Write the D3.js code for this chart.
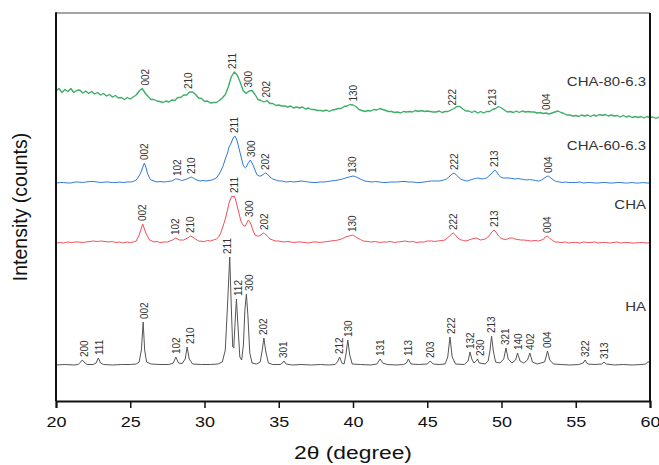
<!DOCTYPE html>
<html>
<head>
<meta charset="utf-8">
<script src="https://cdn.jsdelivr.net/npm/d3@7"></script>
<style>
  body { margin: 0; background: #fff; }
  text { font-family: Arial, "Liberation Sans", sans-serif; }
</style>
</head>
<body>
<svg width="659" height="465"></svg>
<script>
// XRD patterns, [2theta, counts above the pattern's own baseline]
var haCounts = [[20.0,0],[20.6,0.5],[21.2,0],[21.5,0.5],[21.6,2],[21.77,5],[21.95,2],[22.1,0.5],[22.5,0.5],[22.7,2],[22.85,7],[23.0,2],[23.2,0.5],[23.8,0],[24.4,0.5],[25.0,0.5],[25.4,1],[25.6,3],[25.75,15],[25.87,43],[25.97,15],[26.1,3],[26.4,1],[27.0,0.5],[27.6,0.5],[27.9,2],[28.07,8],[28.25,2],[28.5,1.5],[28.7,6],[28.83,18],[28.97,6],[29.2,1],[29.8,0.5],[30.4,0.5],[30.9,1],[31.2,3],[31.4,15],[31.55,60],[31.7,108],[31.8,60],[31.9,18],[31.97,17],[32.05,40],[32.15,66],[32.25,40],[32.38,8],[32.5,5],[32.62,20],[32.72,55],[32.82,71],[32.92,50],[33.05,12],[33.2,2],[33.5,1],[33.75,3],[33.88,14],[34.0,27],[34.12,14],[34.3,2],[34.6,0.5],[35.1,0.5],[35.25,2],[35.35,4],[35.5,1],[35.9,0],[36.5,0.5],[37.2,0],[37.8,0.5],[38.4,0],[38.8,0.5],[38.95,3],[39.1,8],[39.25,2],[39.4,1],[39.52,10],[39.65,25],[39.78,10],[39.95,1],[40.5,0.5],[41.2,0],[41.6,1],[41.83,6],[42.0,2],[42.3,0.5],[42.9,0],[43.4,0.5],[43.6,2],[43.73,6],[43.9,1],[44.4,0.5],[45.0,1],[45.2,4],[45.4,1],[45.8,0.5],[46.2,1],[46.38,8],[46.53,28],[46.68,8],[46.9,1],[47.5,0.5],[47.75,4],[47.88,13],[48.0,6],[48.15,2],[48.3,4],[48.39,6],[48.5,2],[48.9,1],[49.1,4],[49.22,14],[49.33,29],[49.45,14],[49.6,3],[49.9,2],[50.15,6],[50.3,17],[50.45,6],[50.7,2],[50.95,5],[51.08,12],[51.25,4],[51.5,2],[51.75,5],[51.91,12],[52.08,3],[52.4,1],[52.9,3],[53.0,8],[53.1,14],[53.25,5],[53.5,1],[54.0,0.5],[54.6,0],[55.2,0.5],[55.5,2],[55.63,5],[55.8,1],[56.3,0.5],[56.75,1],[56.9,3],[57.05,1],[57.6,0],[58.2,0.5],[58.8,0],[59.4,0.5],[59.7,1],[59.85,3],[60.0,3]];

var chaCounts = [[20,0],[20.3,0.5],[20.5,0],[20.8,1],[21,0.5],[21.3,1],[21.5,1],[21.8,0.5],[22,1],[22.3,1.5],[22.5,2],[22.8,1.5],[23,2],[23.3,1.5],[23.5,1],[23.8,1.5],[24,0.5],[24.3,1],[24.5,0],[24.8,1],[25.0,0.5],[25.2,1],[25.4,2],[25.6,8],[25.84,19],[26.05,10],[26.3,3],[26.6,1],[26.8,1.5],[27,0.5],[27.3,1],[27.5,1],[27.85,3],[28.07,5],[28.3,3],[28.6,3],[28.85,5],[29.07,7],[29.3,5],[29.6,2],[30.0,1.5],[30.2,2.5],[30.4,2],[30.6,3],[30.8,4],[30.95,6],[31.1,10],[31.25,17],[31.4,24],[31.55,33],[31.65,40],[31.78,45],[31.85,47],[31.93,46],[32.0,47],[32.08,44],[32.15,40],[32.25,34],[32.35,28],[32.45,22],[32.55,19],[32.65,17],[32.75,17],[32.85,20],[32.95,23],[33.05,21],[33.15,18],[33.25,13],[33.4,8],[33.55,7],[33.65,7],[33.8,8],[33.95,10],[34.05,9.5],[34.15,8],[34.3,6],[34.4,4],[34.6,3],[34.8,2],[35.0,2],[35.3,1],[35.6,1.5],[36,0.5],[36.3,1],[36.5,1],[36.8,0.5],[37,0],[37.3,1],[37.5,1],[37.8,0.5],[38,1],[38.3,1.5],[38.5,2],[38.8,2.5],[39.0,3],[39.3,4.5],[39.5,6],[39.75,7],[39.95,8],[40.1,7],[40.3,5],[40.5,3.5],[40.7,2],[41.0,1.5],[41.2,1],[41.5,1.5],[41.8,0.5],[42.0,1],[42.3,1],[42.5,1.5],[42.8,0.5],[43.0,1],[43.3,1.5],[43.5,2],[43.8,1],[44.0,1.5],[44.3,0.5],[44.5,1],[44.8,1],[45.0,2],[45.3,2],[45.5,1.5],[45.7,2],[46.0,2.5],[46.2,3],[46.35,5],[46.5,7],[46.65,9],[46.76,10],[46.9,8],[47.0,6],[47.15,4],[47.3,3],[47.45,2.5],[47.6,2],[47.8,3],[48.0,4],[48.15,4.5],[48.3,5],[48.45,4],[48.6,3],[48.75,3.5],[48.9,4],[49.05,5.5],[49.2,8],[49.35,11],[49.5,13],[49.62,11],[49.8,7],[49.95,5],[50.1,4],[50.25,3.5],[50.4,4],[50.55,5],[50.75,5],[50.9,4],[51.1,3.5],[51.3,3],[51.5,3],[51.75,2.5],[52.0,2],[52.25,2.5],[52.5,2],[52.7,3],[52.85,4],[52.95,6],[53.08,7],[53.2,5.5],[53.3,4],[53.45,2.5],[53.6,1],[53.8,1],[54,0.5],[54.3,1],[54.5,0],[54.8,0.5],[55,0.5],[55.3,0],[55.5,1],[55.8,0.5],[56,0.5],[56.3,1],[56.5,0],[56.8,0.5],[57,0.5],[57.3,0],[57.5,0.5],[57.8,1],[58,0],[58.3,0.5],[58.5,0.5],[58.8,0],[59,0],[59.3,0.5],[59.5,0.5],[59.8,0],[60,0.5]];

var cha60Counts = [[20,0],[20.3,0.5],[20.5,0.5],[20.8,0],[21,0],[21.3,1],[21.5,1],[21.8,0.5],[22,1],[22.3,1.5],[22.5,1.5],[22.8,1],[23,0.5],[23.3,1],[23.5,1],[23.8,0.5],[24,0.5],[24.3,1],[24.5,0.5],[24.8,1],[25,1],[25.2,1.5],[25.4,3],[25.55,6],[25.7,10],[25.85,16],[25.95,20],[26.05,16],[26.15,10],[26.3,5],[26.4,3],[26.6,2],[26.8,1],[27.0,1.5],[27.3,1],[27.5,1.5],[27.8,2],[28.05,4],[28.2,4],[28.45,2.5],[28.6,3],[28.8,4],[28.95,5],[29.1,6],[29.25,5],[29.35,4],[29.5,3],[29.7,2],[29.9,2.5],[30.1,2],[30.3,2.5],[30.5,3],[30.65,4],[30.8,5],[30.95,8],[31.1,12],[31.25,17],[31.4,24],[31.55,30],[31.65,36],[31.8,40],[31.9,44],[31.98,46],[32.05,47],[32.12,45],[32.2,42],[32.3,36],[32.4,30],[32.5,24],[32.6,18],[32.68,16],[32.75,15],[32.82,16],[32.9,19],[33.0,21],[33.09,23],[33.2,20],[33.3,17],[33.42,12],[33.55,8],[33.68,7],[33.8,7],[33.95,8.5],[34.05,9.5],[34.12,10],[34.22,9],[34.35,7],[34.5,5],[34.6,4],[34.8,3],[35,2],[35.2,2],[35.5,1],[35.8,1.5],[36,1],[36.3,1.5],[36.5,2],[36.8,1.5],[37,1],[37.3,0.5],[37.5,0.5],[37.8,1],[38,1],[38.3,1.5],[38.5,2],[38.8,2.5],[39,3],[39.3,4],[39.5,5],[39.75,6],[40.0,7],[40.15,6.5],[40.35,5],[40.55,3.5],[40.8,2],[41.0,1.5],[41.3,1],[41.5,1.5],[41.8,1],[42.0,0.5],[42.3,0.5],[42.5,1],[42.8,1],[43.0,1],[43.3,1.5],[43.5,1.5],[43.8,1],[44.0,1],[44.3,0.5],[44.5,0.5],[44.8,1],[45.0,1.5],[45.3,2],[45.5,2],[45.8,2],[46.0,2.5],[46.3,4],[46.45,6],[46.6,8],[46.72,9.5],[46.83,10],[46.95,8],[47.1,6],[47.25,4],[47.4,3],[47.55,2.5],[47.7,2],[47.9,3],[48.1,4],[48.25,4.5],[48.4,5],[48.55,4.5],[48.7,4],[48.85,4.5],[49.0,5],[49.15,7],[49.3,9],[49.42,11],[49.55,13],[49.68,11],[49.8,8],[49.95,6],[50.1,5],[50.3,5],[50.5,5],[50.7,4.5],[50.9,4],[51.1,4.5],[51.3,4],[51.5,3.5],[51.7,3],[51.9,3.5],[52.1,3],[52.3,2.5],[52.5,2],[52.7,3],[52.9,5],[53.05,6.5],[53.15,7],[53.28,5.5],[53.4,4],[53.55,2.5],[53.7,1.5],[53.9,1],[54.1,0.5],[54.3,1],[54.5,0.5],[54.8,0.5],[55,0.5],[55.3,1],[55.5,0],[55.8,0.5],[56,0.5],[56.3,0],[56.5,0],[56.8,0.5],[57,0.5],[57.3,0],[57.5,0],[57.8,0.5],[58,0.5],[58.3,0],[58.5,0],[58.8,0.5],[59,0],[59.3,0],[59.5,0.5],[59.8,0],[60,0]];

// CHA-80-6.3 is read every 0.2 degree from 20 degree (noisy scan)
var cha80Start = 20, cha80Step = 0.2;
var cha80Values = [29,31.5,27.5,30.5,28.5,31.5,27.5,29.5,30,27,29,26.5,28.5,26,27.5,25,26.5,24,25.5,23,24.5,22,22.5,20.5,22.5,21,23,25,29,31.5,27,23.5,20.5,20.5,19,18.5,17.5,19,18,20,19.5,22.5,22.5,25,25,28,28,25.5,22,21.5,18.5,19,17,17.5,17.5,19.5,22,25.5,33,43,48,45,38,29.5,26.5,29,29.5,25.5,20.5,19.5,18,19.5,16.5,16.5,14.5,15,14,14,13,14,12,13,12,13,11,12,10.5,10.5,9.5,9.5,9,10,8.5,10,10.5,11.5,11.5,13.5,14,15.5,15,13.5,10.5,9.5,8.5,9.5,9,10.5,10,11.5,10.5,9.5,8.5,8.5,7.5,8,7,8.5,8,8.5,8,9.5,8.5,9.5,8.5,9,8.5,8,8,9,7.5,8.5,8.5,10,11.5,13.5,13.5,11,9,9,7.5,9,7,8.5,7,8.5,8.5,10.5,11.5,13.5,12,10,8,8.5,7.5,9,7.5,9,8,8.5,8,8,7,7.5,6.5,7,6,7,8,9,7.5,6.5,5,5,4,4.5,3.5,5,4,5,3.5,5,4,5.5,4.5,5.5,4,5,4,4.5,3,4.5,3,4,2.5,3.5,2.5,3.5,2,3.5,2.5,3,1.5,3,1.5,2.5,1.5];

// Miller indices and the 2theta where each label stands
var haPeaks = [["200",21.9],["111",22.9],["002",25.95],["102",28.12],["210",29.05],["211",31.54],["112",32.3],["300",33.02],["202",33.98],["301",35.3],["212",39.11],["130",39.72],["131",41.86],["113",43.73],["203",45.25],["222",46.6],["132",47.94],["230",48.56],["213",49.33],["321",50.3],["140",51.15],["402",51.96],["004",53.1],["322",55.68],["313",56.95]];
var chaPeaks = [["002",25.84],["102",28.06],["210",29.08],["211",32.0],["300",33.0],["202",34.02],["130",39.95],["222",46.77],["213",49.5],["004",53.1]];
var cha60Peaks = [["002",25.95],["102",28.18],["210",29.15],["211",32.05],["300",33.19],["202",34.14],["130",39.97],["222",46.83],["213",49.55],["004",53.16]];
var cha80Peaks = [["002",26.04],["210",28.9],["211",31.91],["300",32.97],["202",34.18],["130",40.02],["222",46.67],["213",49.37],["004",53.0]];

var seriesNames = ["HA", "CHA", "CHA-60-6.3", "CHA-80-6.3"];
var seriesOffsets = [36, 158, 218, 281];
var xTicks = [20, 25, 30, 35, 40, 45, 50, 55, 60];

var svg = d3.select("svg"),
    plotL = 56, plotR = 650, plotT = 13, plotB = 401;

var x = d3.scaleLinear().domain([20, 60]).range([plotL, plotR]);
var y = d3.scaleLinear().domain([0, 388]).range([plotB, plotT]);

var cha80Counts = cha80Values.map(function(v, i){ return [cha80Start + i*cha80Step, v] });

var series = [
  {name: seriesNames[0], data: haCounts,    peaks: haPeaks,    off: seriesOffsets[0], color: "#555555", lift: 58, w: 1},
  {name: seriesNames[1], data: chaCounts,   peaks: chaPeaks,   off: seriesOffsets[1], color: "#f0505a", lift: 38, w: 1},
  {name: seriesNames[2], data: cha60Counts, peaks: cha60Peaks, off: seriesOffsets[2], color: "#2f7ad8", lift: 37, w: 1},
  {name: seriesNames[3], data: cha80Counts, peaks: cha80Peaks, off: seriesOffsets[3], color: "#3eae68", lift: 38, w: 1.4}
];

series.forEach(function(s){
  var line = d3.line()
      .x(function(d){ return x(d[0]) })
      .y(function(d){ return y(s.off + d[1]) });

  svg.append("path")
      .datum(s.data)
      .attr("fill", "none")
      .attr("stroke", s.color)
      .attr("stroke-width", s.w)
      .attr("stroke-linejoin", "round")
      .attr("d", line);

  // hkl labels sit just above the highest point near each label
  svg.selectAll(null)
    .data(s.peaks)
    .enter().append("text")
      .attr("transform", function(p){
        var near = s.data.filter(function(d){ return Math.abs(d[0] - p[1]) <= 0.25 });
        var peakTop = d3.max(near, function(d){ return d[1] });
        return "translate(" + x(p[1]) + "," + (y(s.off + peakTop) - 3) + ") rotate(-90)";
      })
      .attr("dy", "0.35em")
      .style("font-size", "10px")
      .style("fill", "#333")
      .text(function(p){ return p[0] });

  svg.append("text")
      .attr("transform", "translate(646," + (y(s.off) - s.lift) + ") scale(1.2,1)")
      .attr("text-anchor", "end")
      .attr("dy", "0.35em")
      .style("font-size", "12.5px")
      .style("fill", "#333")
      .text(s.name);
});

// frame
svg.append("line").attr("x1", plotL).attr("x2", plotR).attr("y1", plotT).attr("y2", plotT)
    .attr("stroke", "#888").attr("stroke-width", 1.5);
svg.append("line").attr("x1", plotR).attr("x2", plotR).attr("y1", plotT).attr("y2", plotB)
    .attr("stroke", "#111").attr("stroke-width", 2);
svg.append("line").attr("x1", plotL).attr("x2", plotL).attr("y1", plotT - 0.75).attr("y2", plotB)
    .attr("stroke", "#111").attr("stroke-width", 2);

var xAxis = svg.append("g")
    .attr("transform", "translate(0," + plotB + ")")
    .call(d3.axisBottom(x).tickValues(xTicks).tickSize(7).tickPadding(8));
xAxis.select(".domain").attr("stroke", "#111").attr("stroke-width", 2);
xAxis.selectAll(".tick line").attr("stroke", "#111").attr("stroke-width", 1.5);
xAxis.selectAll(".tick text")
    .attr("transform", "scale(1.2,1)")
    .style("font-size", "15px")
    .style("font-family", "Arial, 'Liberation Sans', sans-serif")
    .style("fill", "#111");

svg.append("text")
    .attr("transform", "translate(" + ((plotL + plotR) / 2) + ",459) scale(1.2,1)")
    .attr("text-anchor", "middle")
    .style("font-size", "19px")
    .style("fill", "#111")
    .text("2θ (degree)");

svg.append("text")
    .attr("transform", "translate(20,207) rotate(-90)")
    .attr("text-anchor", "middle")
    .attr("dy", "0.35em")
    .style("font-size", "19.5px")
    .style("fill", "#111")
    .text("Intensity (counts)");
</script>
</body>
</html>
